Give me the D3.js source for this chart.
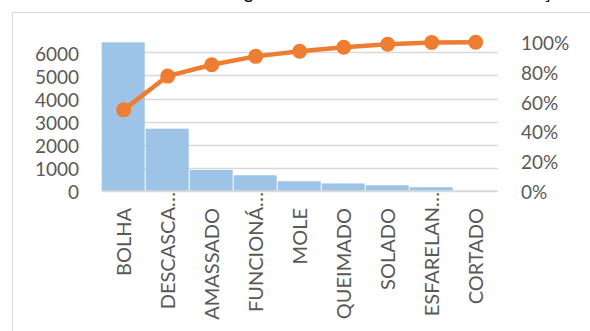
<!DOCTYPE html>
<html>
<head>
<meta charset="utf-8">
<script src="https://cdn.jsdelivr.net/npm/d3@7"></script>
<style>
  html, body { margin: 0; padding: 0; background: #fff; }
  svg { display: block; }
  text { font-family: Lato, "Open Sans", sans-serif; fill: #595959; }
</style>
</head>
<body>
<svg id="chart" width="590" height="331"></svg>
<script>
// Defect categories, sorted by count (Pareto order)
const categories = ["BOLHA", "DESCASCA…", "AMASSADO", "FUNCIONÁ…", "MOLE", "QUEIMADO", "SOLADO", "ESFARELAN…", "CORTADO"];
const counts = [6440, 2690, 900, 670, 410, 315, 235, 150, 10];
const countTicks = [0, 1000, 2000, 3000, 4000, 5000, 6000];
const pctTicks = [0, 0.2, 0.4, 0.6, 0.8, 1.0];
const titleText = "Diagrama de Pareto - Defeitos de Produção";

const total = d3.sum(counts);
const cumulative = Array.from(d3.cumsum(counts), v => v / total);

const svg = d3.select("#chart");
const plot = { left: 101.7, right: 497.7, top: 42.3, bottom: 190.7 };

// chart area frame
svg.append("rect")
  .attr("x", 12.5).attr("y", 12.5)
  .attr("width", 700).attr("height", 400)
  .attr("fill", "#fff").attr("stroke", "#d9d9d9").attr("stroke-width", 1);

// title (sits above the frame's top edge)
svg.append("text")
  .attr("x", 216).attr("y", -1)
  .attr("textLength", 355).attr("lengthAdjust", "spacingAndGlyphs")
  .style("font-size", "20px").style("fill", "#000")
  .text(titleText);

const x = d3.scaleBand().domain(categories).range([plot.left, plot.right]).padding(0);
const yCount = d3.scaleLinear().domain([0, d3.max(counts)]).range([plot.bottom, plot.top]);
const yPct = d3.scaleLinear().domain([0, 1]).range([plot.bottom, plot.top]);

// gridlines from the count axis
svg.append("g").selectAll("line").data(countTicks).join("line")
  .attr("x1", plot.left).attr("x2", plot.right)
  .attr("y1", d => Math.round(yCount(d)) + 0.5).attr("y2", d => Math.round(yCount(d)) + 0.5)
  .attr("stroke", "#d9d9d9").attr("stroke-width", 1.5);

// bars
svg.append("g").selectAll("rect").data(counts).join("rect")
  .attr("x", (d, i) => x(categories[i]))
  .attr("y", d => yCount(d))
  .attr("width", x.bandwidth() - 1)
  .attr("height", d => plot.bottom - yCount(d))
  .attr("fill", "#9dc3e6");

// baseline
svg.append("line")
  .attr("x1", plot.left).attr("x2", plot.right)
  .attr("y1", plot.bottom + 0.5).attr("y2", plot.bottom + 0.5)
  .attr("stroke", "#d9d9d9").attr("stroke-width", 1.5);

// left axis (counts)
const leftAxis = d3.axisLeft(yCount).tickValues(countTicks).tickSize(0).tickPadding(0).tickFormat(d3.format("d"));
const gl = svg.append("g").attr("transform", "translate(79,0)").call(leftAxis);
gl.select(".domain").remove();
gl.selectAll("text").style("font-size", "19px").style("fill", "#595959").attr("font-family", null).attr("dy", "0.4em");

// right axis (cumulative percentage)
const rightAxis = d3.axisRight(yPct).tickValues(pctTicks).tickSize(0).tickPadding(0).tickFormat(d3.format(".0%"));
const gr = svg.append("g").attr("transform", "translate(521,0)").call(rightAxis);
gr.select(".domain").remove();
gr.selectAll("text").style("font-size", "19px").style("fill", "#595959").attr("font-family", null).attr("dy", "0.4em");

// category labels, rotated
svg.append("g").selectAll("text").data(categories).join("text")
  .attr("transform", d => `translate(${x(d) + x.bandwidth() / 2},${d.endsWith("…") ? 192 : 208}) rotate(-90)`)
  .attr("text-anchor", "end")
  .attr("dy", "0.36em")
  .style("font-size", "20px")
  .text(d => d);

// cumulative line with markers
const line = d3.line()
  .x((d, i) => x(categories[i]) + x.bandwidth() / 2)
  .y(d => yPct(d));
svg.append("path").datum(cumulative)
  .attr("d", line)
  .attr("fill", "none").attr("stroke", "#ed7d31").attr("stroke-width", 4.5)
  .attr("stroke-linejoin", "round");
svg.append("g").selectAll("circle").data(cumulative).join("circle")
  .attr("cx", (d, i) => x(categories[i]) + x.bandwidth() / 2)
  .attr("cy", d => yPct(d))
  .attr("r", 7.5)
  .attr("fill", "#ed7d31");
</script>
</body>
</html>
